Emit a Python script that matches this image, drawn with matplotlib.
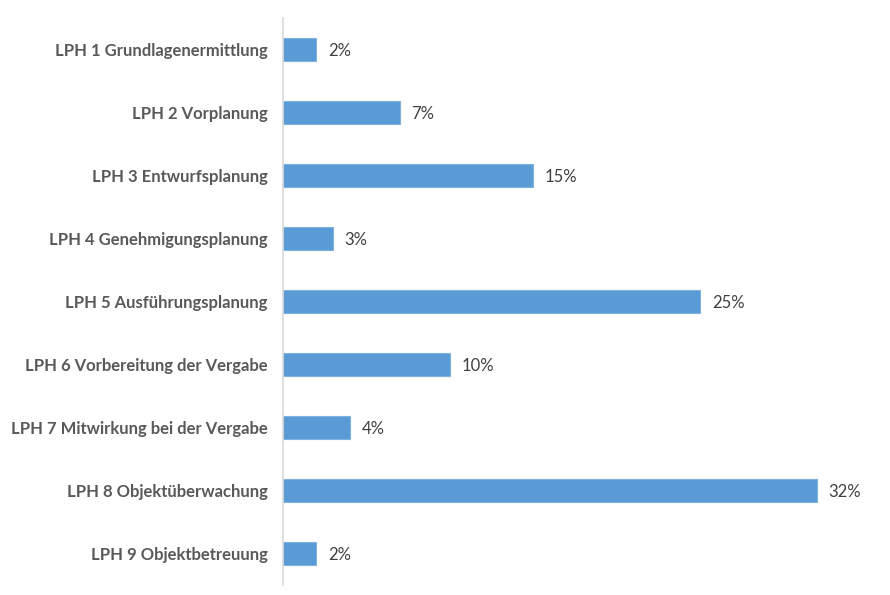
import matplotlib.pyplot as plt

# Leistungsphasen (HOAI) und ihr Anteil in Prozent
phases = [
    "LPH 1 Grundlagenermittlung",
    "LPH 2 Vorplanung",
    "LPH 3 Entwurfsplanung",
    "LPH 4 Genehmigungsplanung",
    "LPH 5 Ausführungsplanung",
    "LPH 6 Vorbereitung der Vergabe",
    "LPH 7 Mitwirkung bei der Vergabe",
    "LPH 8 Objektüberwachung",
    "LPH 9 Objektbetreuung",
]
shares = [2, 7, 15, 3, 25, 10, 4, 32, 2]

plt.rcParams["font.family"] = ["Lato", "DejaVu Sans"]

fig = plt.figure(figsize=(8.9, 5.95), dpi=100)
ax = fig.add_axes([0.318, 0.017, 0.656, 0.953])

y = range(len(phases))
ax.barh(y, shares, height=0.365, color="#5B9BD5", edgecolor="#7FB2E0", linewidth=0.8)

for i, v in enumerate(shares):
    ax.text(v + 0.7, i + 0.03, f"{v}%", va="center", ha="left", fontsize=12, color="#404040")

ax.set_yticks(list(y))
ax.set_yticklabels(phases, fontsize=12, fontweight="bold", color="#595959")
ax.tick_params(axis="y", length=0, pad=11)
ax.set_xticks([])
ax.set_xlim(0, 35)
ax.set_ylim(8.5, -0.5)

for s in ["top", "right", "bottom"]:
    ax.spines[s].set_visible(False)
ax.spines["left"].set_color("#D9D9D9")
ax.spines["left"].set_linewidth(1.2)

fig.savefig("out.png", dpi=100)
